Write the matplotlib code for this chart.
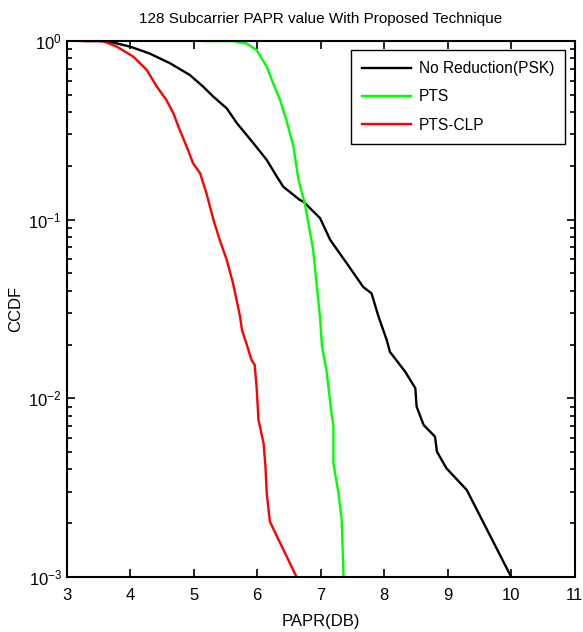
import numpy as np
import matplotlib
matplotlib.use('Agg')
import matplotlib.pyplot as plt
from matplotlib.ticker import NullFormatter, FixedLocator

plt.rcParams['font.family'] = ['Liberation Sans Narrow', 'Liberation Sans', 'DejaVu Sans']
plt.rcParams['xtick.direction'] = 'in'
plt.rcParams['ytick.direction'] = 'in'
plt.rcParams['xtick.color'] = 'black'
plt.rcParams['ytick.color'] = 'black'

# values
papr_none = [3.3, 3.5, 3.68, 4.0, 4.31, 4.63, 4.94, 5.15, 5.31, 5.52, 5.68, 5.94, 6.15, 6.31,
             6.41, 6.67, 6.73, 6.99, 7.15, 7.41, 7.67, 7.80, 7.91, 8.04, 8.09, 8.33, 8.49,
             8.51, 8.62, 8.80, 8.83, 8.98, 9.30, 10.0]
ccdf_none = [1.0, 1.0, 0.99, 0.93, 0.85, 0.75, 0.645, 0.555, 0.488, 0.42, 0.347, 0.268, 0.216, 0.174,
             0.153, 0.129, 0.126, 0.102, 0.077, 0.057, 0.042, 0.0387, 0.0287, 0.0212, 0.0182,
             0.0141, 0.0114, 0.009, 0.0071, 0.0061, 0.00503, 0.00406, 0.00307, 0.001]

papr_pts = [5.2, 5.62, 5.83, 5.99, 6.15, 6.25, 6.36, 6.46, 6.57, 6.65, 6.75, 6.88, 6.99,
            7.02, 7.09, 7.17, 7.20, 7.20, 7.28, 7.33, 7.36]
ccdf_pts = [1.0, 1.0, 0.97, 0.89, 0.72, 0.58, 0.468, 0.361, 0.257, 0.167, 0.123, 0.068, 0.0282,
            0.0195, 0.0144, 0.00826, 0.00695, 0.00433, 0.00294, 0.0021, 0.001]

papr_clp = [3.21, 3.57, 3.79, 4.05, 4.26, 4.42, 4.57, 4.68, 4.78, 4.89, 4.99, 5.10, 5.20,
            5.31, 5.41, 5.52, 5.62, 5.73, 5.76, 5.83, 5.91, 5.96, 5.99, 6.02, 6.10, 6.13,
            6.15, 6.20, 6.62]
ccdf_clp = [1.0, 1.0, 0.93, 0.817, 0.689, 0.555, 0.468, 0.394, 0.318, 0.256, 0.207, 0.182, 0.141,
            0.1, 0.077, 0.0595, 0.044, 0.0287, 0.0241, 0.0203, 0.0164, 0.0154, 0.0116, 0.00757,
            0.00561, 0.00415, 0.00294, 0.00204, 0.001]

x_ticks = [3, 4, 5, 6, 7, 8, 9, 10, 11]
y_ticks = [1e-3, 1e-2, 1e-1, 1]

fig = plt.figure(figsize=(5.83, 6.32), dpi=100)
ax = fig.add_axes([0.1144, 0.087, 0.8714, 0.8481])

ax.plot(papr_none, ccdf_none, c='black', lw=1.7, label='No Reduction(PSK)')
ax.plot(papr_pts, ccdf_pts, c='#00ff00', lw=1.7, label='PTS')
ax.plot(papr_clp, ccdf_clp, c='#ff0000', lw=1.7, label='PTS-CLP')

ax.set_yscale('log')
ax.set_xlim(3, 11)
ax.set_ylim(1e-3, 1)
ax.set_xticks(x_ticks)
ax.yaxis.set_major_locator(FixedLocator(y_ticks))
minor = [m * 10.0 ** e for e in (-3, -2, -1) for m in range(2, 10)]
ax.minorticks_on()
ax.xaxis.set_minor_locator(FixedLocator([]))
ax.yaxis.set_minor_locator(FixedLocator(minor))
ax.yaxis.set_minor_formatter(NullFormatter())
ax.tick_params(which='both', direction='in', top=True, right=True, colors='black', width=1.2)
ax.tick_params(which='major', length=6, labelsize=12)
ax.tick_params(axis='x', which='major', pad=8)
ax.tick_params(which='minor', length=3.5)
for s in ax.spines.values():
    s.set_linewidth(1.5)

ax.set_xlabel('PAPR(DB)', fontsize=12, labelpad=8)
ax.set_ylabel('CCDF', fontsize=12, labelpad=4)
ax.set_title('128 Subcarrier PAPR value With Proposed Technique', fontsize=11, pad=13)

leg = ax.legend(loc='upper right', fontsize=11.2, fancybox=False, edgecolor='black',
                framealpha=1, handlelength=3.2, handletextpad=0.5, borderaxespad=0.6,
                labelspacing=0.85, borderpad=0.7)
leg.get_frame().set_linewidth(1.0)

plt.savefig('out.png', dpi=100)
